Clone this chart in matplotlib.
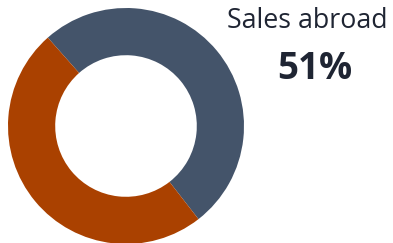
import matplotlib
matplotlib.use("Agg")
import matplotlib.pyplot as plt

labels = ["Sales abroad", "Domestic sales"]
values = [51, 49]
colors = ["#44546a", "#aa4100"]
title = "Sales abroad"
value_label = "51%"

W, H = 393, 243
fig = plt.figure(figsize=(W / 100, H / 100), dpi=100)
cx, cy, R = 126, 126, 118
ax = fig.add_axes([(cx - R) / W, (H - cy - R) / H, 2 * R / W, 2 * R / H])
ax.pie(values, colors=colors, startangle=131.5, counterclock=False,
       radius=1, wedgeprops=dict(width=0.4, linewidth=0))
ax.set_xlim(-1, 1)
ax.set_ylim(-1, 1)
ax.set_aspect("equal")
ax.axis("off")

fig.text(307 / W, 1 - 28 / H, title, ha="center", va="baseline",
         fontsize=19.3, family="Open Sans", color="#1f2533")
fig.text(315 / W, 1 - 79 / H, value_label, ha="center", va="baseline",
         fontsize=26.5, family="Open Sans", fontweight="bold", color="#1f2533")

fig.savefig("out.png", dpi=100)
